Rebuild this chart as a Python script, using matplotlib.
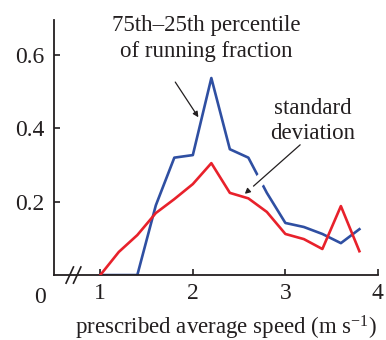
import matplotlib
matplotlib.use('Agg')
import matplotlib.pyplot as plt
import matplotlib.patheffects as pe

plt.rcParams['font.family'] = 'Liberation Serif'
plt.rcParams['mathtext.fontset'] = 'custom'
plt.rcParams['mathtext.rm'] = 'Liberation Serif'
plt.rcParams['mathtext.it'] = 'Liberation Serif:italic'

# data
speed_iqr = [1.0, 1.2, 1.4, 1.6, 1.8, 2.0, 2.2, 2.4, 2.6, 2.8, 3.0, 3.2, 3.4, 3.6, 3.8]
iqr = [0.0, 0.0, 0.0, 0.19, 0.32, 0.327, 0.537, 0.343, 0.32, 0.224, 0.142, 0.131, 0.112, 0.087, 0.125]
speed_sd = [1.0, 1.2, 1.4, 1.6, 1.8, 2.0, 2.2, 2.4, 2.6, 2.8, 3.0, 3.2, 3.4, 3.6, 3.8]
sd = [0.0, 0.063, 0.109, 0.169, 0.207, 0.248, 0.305, 0.224, 0.209, 0.172, 0.112, 0.098, 0.071, 0.188, 0.065]

xticks = [1, 2, 3, 4]
yticks = [0.2, 0.4, 0.6]
ink = '#231f20'

fig = plt.figure(figsize=(3.86, 3.4), dpi=100)
ax = fig.add_axes([0.14, 0.191, 0.839, 0.75])

ax.plot(speed_iqr, iqr, color='#2f4fa2', lw=1.9, zorder=2)
ax.plot(speed_sd, sd, color='#e8212b', lw=1.9, zorder=4)

ax.set_xlim(0.5, 4)
ax.set_ylim(0, 0.695)
ax.set_xticks(xticks)
ax.set_yticks(yticks)
ax.set_yticklabels(['0.2', '0.4', '0.6'])
ax.tick_params(direction='in', length=4, width=1.2, labelsize=17, colors=ink)
ax.tick_params(axis='x', pad=6)
ax.tick_params(axis='y', pad=7)
for s in ['top', 'right']:
    ax.spines[s].set_visible(False)
for s in ['left', 'bottom']:
    ax.spines[s].set_linewidth(1.3)
    ax.spines[s].set_color(ink)

# axis break and the zero
for dx in [0.17, 0.25]:
    ax.plot([0.5 + dx - 0.04, 0.5 + dx + 0.04], [-0.022, 0.022], color=ink, lw=1.2,
            clip_on=False, zorder=5)
ax.text(0.35, -0.033, '0', fontsize=17, color=ink, ha='center', va='top', clip_on=False)

ax.set_xlabel('prescribed average speed (m s$^{-1}$)', fontsize=16.5, color=ink)
ax.xaxis.set_label_coords(0.53, -0.15)

ax.text(2.14, 0.645, '75th\u201325th percentile\nof running fraction', fontsize=16.5,
        ha='center', va='center', color=ink, linespacing=1.28, clip_on=False)
ax.annotate('', xy=(2.06, 0.43), xytext=(1.81, 0.526),
            arrowprops=dict(arrowstyle='-|>', color=ink, lw=0.9, mutation_scale=8,
                            shrinkA=0, shrinkB=0))
ax.annotate('', xy=(2.56, 0.221), xytext=(3.16, 0.355),
            arrowprops=dict(arrowstyle='-|>', color=ink, lw=0.9, mutation_scale=8,
                            shrinkA=0, shrinkB=0,
                            path_effects=[pe.withStroke(linewidth=8, foreground='white')]),
            zorder=3)
ax.text(3.3, 0.42, 'standard\ndeviation', fontsize=16.5, ha='center', va='center',
        color=ink, linespacing=1.28)

fig.savefig('out.png', dpi=100)
